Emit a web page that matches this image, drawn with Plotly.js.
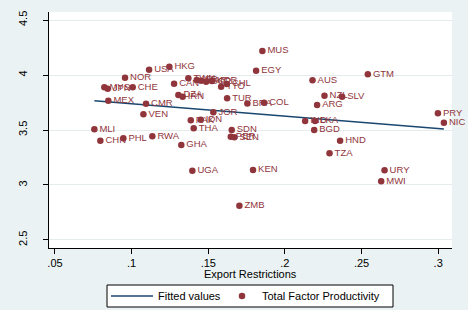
<!DOCTYPE html>
<html>
<head>
<meta charset="utf-8">
<script src="https://cdn.plot.ly/plotly-3.0.1.min.js"></script>
<style>
  html, body { margin: 0; padding: 0; background: #EAF2F3; }
  #chart { width: 468px; height: 310px; }
</style>
</head>
<body>
<div id="chart"></div>
<script>
// Country codes, export restrictions (x) and total factor productivity (y)
const countries = [
  "USA","HKG","NOR","MYS","JPN","CHE","CAN","DZA","IRN",
  "TWN","ISR","MAR","SGP","KOR","TTO","CHL",
  "MUS","EGY","AUS","GTM","TUR","NZL","SLV","ARG","BRA","COL","JOR",
  "IND","LKA","PRY","NIC","MEX","CMR","VEN","MLI","CHN","PHL","RWA",
  "GHA","UGA","PAK","IDN","THA","SDN","PER","SEN","KEN","ZMB",
  "HND","TZA","BGD","URY","MWI"
];
const exportRestrictions = [
  0.1114, 0.1246, 0.0957, 0.0822, 0.0844, 0.1007, 0.1277, 0.1305, 0.1333,
  0.1370, 0.1425, 0.1453, 0.1486, 0.1523, 0.1584, 0.1621,
  0.1853, 0.1812, 0.2180, 0.2541, 0.1623, 0.2258, 0.2373, 0.2210, 0.1755, 0.1864, 0.1533,
  0.2132, 0.2197, 0.2998, 0.3037, 0.0848, 0.1094, 0.1077, 0.0757, 0.0796, 0.0946, 0.1135,
  0.1324, 0.1396, 0.1386, 0.1451, 0.1405, 0.1653, 0.1647, 0.1670, 0.1792, 0.1703,
  0.2360, 0.2291, 0.2191, 0.2650, 0.2628
];
const tfp = [
  4.048, 4.075, 3.976, 3.888, 3.876, 3.888, 3.921, 3.818, 3.803,
  3.970, 3.955, 3.948, 3.939, 3.945, 3.894, 3.918,
  4.218, 4.039, 3.952, 4.006, 3.788, 3.812, 3.803, 3.727, 3.742, 3.748, 3.661,
  3.582, 3.582, 3.652, 3.566, 3.766, 3.739, 3.643, 3.506, 3.403, 3.424, 3.443,
  3.364, 3.130, 3.588, 3.594, 3.515, 3.500, 3.439, 3.434, 3.136, 2.812,
  3.403, 3.288, 3.500, 3.134, 3.034
];

// Linear fit, drawn across the observed range of export restrictions
const fitX = [0.0757, 0.3037];
const fitY = [3.766, 3.509];

const xTickVals = [0.05, 0.1, 0.15, 0.2, 0.25, 0.3];
const xTickText = [".05", ".1", ".15", ".2", ".25", ".3"];
const yTickVals = [2.5, 3, 3.5, 4, 4.5];
const yTickText = ["2.5", "3", "3.5", "4", "4.5"];

const maroon = "#90353B";
const navy = "#1A476F";
const font = "Liberation Sans, Arial, sans-serif";

const W = 468, H = 310;
const M = { l: 49, r: 16, t: 12, b: 62 };
const plotW = W - M.l - M.r, plotH = H - M.t - M.b;
// helpers: pixel position -> paper fraction
const px = (x) => (x - M.l) / plotW;
const py = (y) => -(y - (H - M.b)) / plotH;

const traces = [
  {
    x: fitX, y: fitY, type: "scatter", mode: "lines",
    name: "Fitted values",
    legend: "legend",
    line: { color: navy, width: 1.3 },
    hoverinfo: "skip"
  },
  {
    x: exportRestrictions, y: tfp, type: "scatter", mode: "markers+text",
    name: "Total Factor Productivity",
    legend: "legend2",
    text: countries,
    textposition: "middle right",
    textfont: { family: font, size: 9.5, color: maroon },
    marker: { color: maroon, size: 6.5 },
    cliponaxis: false
  }
];

const legendCommon = {
  orientation: "h",
  xref: "container", xanchor: "left",
  yref: "container", yanchor: "middle", y: (H - 296) / H,
  bgcolor: "rgba(0,0,0,0)",
  borderwidth: 0,
  font: { family: font, size: 11, color: "#000" }
};

const layout = {
  width: W, height: H,
  paper_bgcolor: "#EAF2F3",
  plot_bgcolor: "#FFFFFF",
  margin: M,
  font: { family: font, size: 11, color: "#000" },
  showlegend: true,
  legend: Object.assign({}, legendCommon, { x: 106 / W, itemwidth: 42 }),
  legend2: Object.assign({}, legendCommon, { x: 222 / W, itemwidth: 30 }),
  xaxis: {
    range: [0.0461, 0.309],
    tickvals: xTickVals, ticktext: xTickText,
    ticks: "outside", ticklen: 5, tickcolor: "#000",
    showline: true, linecolor: "#000", linewidth: 1,
    showgrid: false, zeroline: false,
    automargin: false,
    tickfont: { family: font, size: 11 }
  },
  yaxis: {
    range: [2.427, 4.573],
    tickvals: yTickVals, ticktext: yTickText,
    tickangle: -90,
    ticks: "outside", ticklen: 5, tickcolor: "#000",
    ticklabelstandoff: 12,
    showline: true, linecolor: "#000", linewidth: 1,
    showgrid: true, gridcolor: "#E4ECEE", gridwidth: 1,
    zeroline: false,
    automargin: false,
    tickfont: { family: font, size: 11 }
  },
  shapes: [
    // legend frame
    {
      type: "rect", xref: "paper", yref: "paper",
      x0: px(107), x1: px(393), y0: py(285), y1: py(307),
      line: { color: "#000", width: 1 },
      fillcolor: "#FFFFFF",
      layer: "below"
    }
  ],
  annotations: [
    {
      text: "Export Restrictions",
      xref: "paper", x: 0.5, xanchor: "center",
      yref: "paper", y: py(274), yanchor: "middle",
      showarrow: false,
      font: { family: font, size: 11, color: "#000" }
    }
  ]
};

Plotly.newPlot("chart", traces, layout, { displayModeBar: false, staticPlot: true });
</script>
</body>
</html>
